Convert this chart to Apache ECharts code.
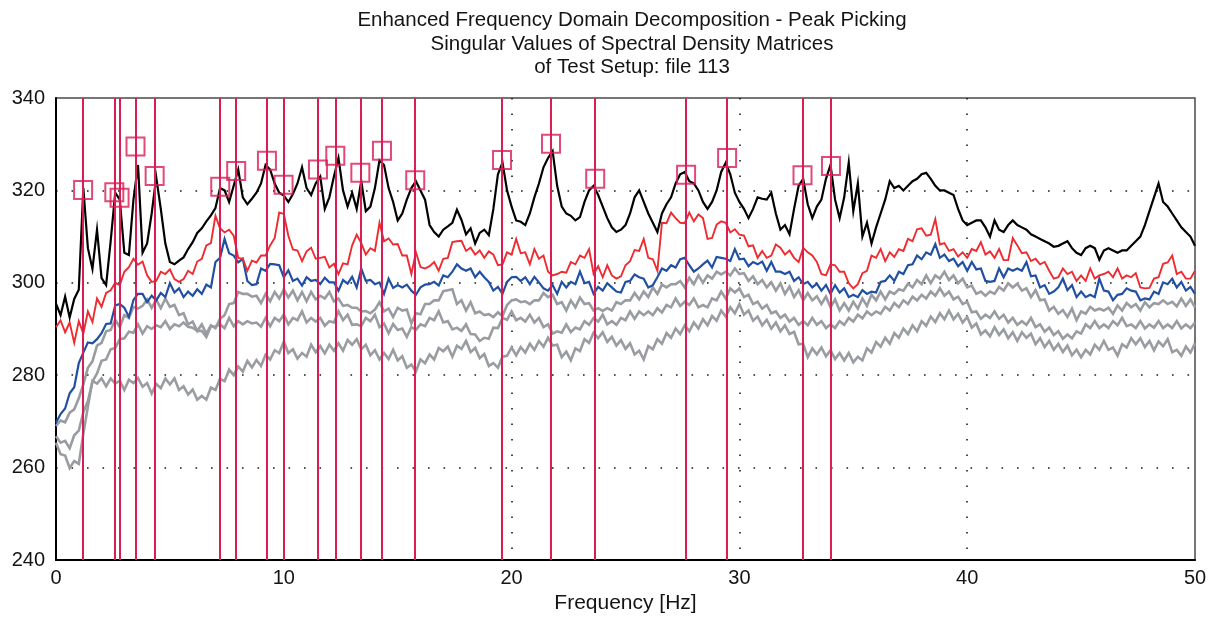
<!DOCTYPE html>
<html>
<head>
<meta charset="utf-8">
<script src="https://cdn.jsdelivr.net/npm/echarts@6/dist/echarts.min.js"></script>
<style>
  html, body { margin: 0; padding: 0; background: #ffffff; }
  #chart { width: 1212px; height: 619px; }
</style>
</head>
<body>
<div id="chart"></div>
<script>
// Spectral lines are sampled every FREQ_STEP Hz from 0 to 50 Hz.
const FREQ_STEP = 0.2;

// First singular value (black)
const sv1 = [
  295.5, 293.0, 297.0, 292.5, 296.5, 298.5, 320.5, 307.5, 303.0, 311.5,
  301.0, 299.5, 309.0, 319.5, 318.0, 306.5, 306.0, 318.0, 325.5, 306.5,
  308.5, 315.0, 322.8, 316.0, 308.5, 304.5, 304.0, 304.8, 305.5, 307.3,
  308.8, 310.8, 311.8, 313.3, 314.6, 316.2, 320.5, 320.0, 317.5, 321.0,
  324.5, 318.5, 317.0, 318.2, 319.5, 321.5, 325.5, 324.5, 321.5, 319.5,
  318.9, 317.5, 319.2, 321.5, 325.0, 320.5, 319.0, 321.5, 323.0, 316.0,
  318.5, 323.0, 327.0, 320.0, 316.5, 319.5, 316.0, 322.0, 315.5, 316.5,
  320.5, 326.5, 325.5, 320.5, 317.5, 313.5, 315.0, 318.0, 320.5, 322.0,
  320.0, 318.0, 312.5, 311.0, 310.0, 311.5, 312.2, 313.0, 315.8, 313.6,
  310.5, 311.8, 308.5, 310.8, 311.5, 310.3, 316.0, 323.5, 326.0, 320.0,
  316.5, 313.5, 313.2, 312.5, 315.0, 318.5, 321.5, 325.0, 327.0, 328.5,
  321.0, 316.5, 315.0, 314.5, 313.5, 314.2, 317.5, 320.0, 321.0, 319.0,
  316.5, 314.0, 312.0, 311.0, 311.5, 312.5, 315.0, 318.5, 320.0, 317.5,
  315.0, 313.0, 311.0, 315.0, 317.0, 318.5, 321.5, 323.5, 324.0, 322.0,
  321.5, 320.0, 317.5, 316.0, 317.5, 320.0, 324.0, 326.0, 323.5, 319.5,
  317.5, 316.0, 314.0, 316.0, 318.5, 318.2, 318.0, 319.5, 315.0, 311.5,
  312.5, 310.5, 316.0, 321.0, 322.5, 317.0, 314.0, 316.5, 318.0, 322.5,
  325.5, 318.0, 314.0, 318.5, 326.0, 315.5, 321.5, 310.0, 313.0, 308.5,
  312.0, 315.0, 318.0, 322.0, 320.5, 321.0, 320.0, 321.0, 322.0, 322.5,
  323.5, 323.8, 322.5, 321.0, 320.0, 320.0, 319.5, 319.0, 316.0, 313.5,
  312.5, 313.0, 313.5, 313.5, 312.0, 310.0, 313.5, 311.5, 311.0, 312.5,
  313.5, 312.5, 312.0, 311.5, 310.5, 310.0, 309.5, 309.0, 308.5, 307.8,
  308.0, 308.5, 309.0, 307.5, 306.5, 306.0, 307.5, 308.0, 307.5, 305.0,
  307.0, 307.5, 307.0, 306.5, 307.0, 307.0, 308.0, 309.0, 310.0, 312.5,
  315.5, 318.5, 321.5, 317.5, 316.5, 315.0, 313.5, 312.0, 311.0, 310.0,
  308.0
];

// Second singular value (red)
const sv2 = [
  290.4, 291.9, 289.3, 291.4, 287.0, 291.7, 289.0, 293.8, 291.5, 296.6,
  294.8, 297.8, 298.4, 300.0, 299.5, 302.4, 303.4, 305.2, 303.9, 304.6,
  301.6, 300.2, 300.4, 302.4, 301.9, 302.9, 300.8, 300.2, 300.8, 302.6,
  301.9, 304.6, 305.2, 308.1, 308.6, 314.5, 311.8, 310.9, 311.5, 310.2,
  305.4, 305.2, 302.6, 304.8, 304.4, 305.9, 305.9, 308.1, 309.7, 315.2,
  314.9, 310.2, 307.2, 307.0, 304.7, 306.8, 307.6, 305.2, 305.4, 305.6,
  303.3, 304.1, 301.9, 304.2, 304.0, 308.1, 310.4, 308.6, 306.1, 307.5,
  306.9, 313.0, 309.0, 309.6, 308.3, 308.4, 305.9, 305.9, 301.9, 306.6,
  303.4, 303.1, 303.6, 304.5, 302.6, 305.2, 305.4, 308.8, 309.0, 309.1,
  306.9, 307.6, 306.1, 307.0, 305.4, 306.8, 306.1, 303.8, 304.0, 306.6,
  306.1, 309.5, 306.4, 306.6, 304.0, 307.3, 305.2, 305.9, 302.4, 301.6,
  301.9, 302.4, 302.2, 304.5, 304.0, 305.9, 305.4, 307.3, 301.9, 303.6,
  301.2, 303.8, 301.6, 300.9, 301.4, 303.8, 304.7, 307.1, 306.9, 309.5,
  305.4, 305.1, 302.6, 313.0, 312.9, 315.2, 314.0, 313.0, 312.9, 315.2,
  313.3, 314.8, 314.0, 309.5, 309.7, 312.6, 313.3, 313.0, 310.9, 311.6,
  310.4, 310.2, 307.9, 308.1, 305.4, 306.9, 305.4, 305.9, 308.3, 307.6,
  306.1, 307.0, 305.4, 304.5, 307.6, 306.6, 305.9, 304.5, 301.9, 301.6,
  304.0, 303.8, 302.4, 302.4, 299.9, 298.8, 299.7, 302.1, 302.6, 305.9,
  305.4, 307.3, 304.7, 306.6, 305.6, 307.3, 306.9, 309.5, 309.0, 311.6,
  311.8, 310.2, 310.4, 313.8, 308.3, 308.6, 306.9, 307.3, 305.7, 306.6,
  305.4, 307.3, 306.9, 308.8, 306.1, 306.8, 305.4, 307.3, 304.9, 304.9,
  309.7, 308.1, 306.4, 306.6, 304.7, 305.2, 304.0, 304.5, 302.6, 300.9,
  301.2, 303.1, 301.9, 302.4, 300.4, 301.6, 300.4, 303.1, 300.9, 301.6,
  301.9, 302.4, 301.2, 303.1, 300.9, 301.6, 301.2, 302.1, 299.0, 298.8,
  298.9, 300.9, 301.2, 304.1, 304.4, 305.9, 301.9, 302.4, 300.9, 300.9,
  302.6
];

// Third singular value (blue)
const sv3 = [
  269.7, 271.6, 272.8, 276.1, 277.4, 282.6, 284.9, 287.1, 286.9, 287.8,
  289.1, 291.1, 291.2, 295.1, 295.4, 294.6, 292.6, 296.3, 297.6, 297.6,
  295.8, 297.2, 296.2, 297.8, 296.9, 299.9, 297.9, 298.8, 296.9, 298.1,
  297.2, 298.6, 297.6, 299.6, 299.0, 304.5, 305.4, 309.5, 306.4, 305.9,
  304.4, 305.2, 300.4, 299.5, 299.7, 303.1, 302.6, 304.1, 304.0, 303.8,
  301.2, 302.7, 300.4, 300.9, 299.4, 301.2, 300.4, 300.6, 299.7, 301.1,
  300.1, 300.1, 298.3, 300.6, 299.8, 301.3, 299.0, 303.1, 300.4, 300.6,
  299.7, 300.1, 297.6, 300.9, 298.9, 299.5, 299.0, 299.6, 298.3, 297.4,
  299.0, 299.6, 299.7, 300.2, 299.4, 301.6, 301.2, 302.4, 304.0, 303.1,
  302.6, 303.1, 301.2, 302.4, 301.2, 300.2, 298.3, 299.1, 297.6, 300.2,
  301.2, 301.3, 300.4, 301.2, 299.7, 301.3, 300.1, 298.8, 298.3, 299.5,
  297.6, 300.2, 299.0, 300.2, 299.7, 302.4, 299.9, 300.2, 297.6, 299.1,
  298.3, 299.9, 299.0, 298.1, 297.9, 300.2, 300.4, 301.8, 301.2, 300.9,
  299.0, 299.5, 301.2, 303.1, 302.6, 303.8, 303.3, 305.1, 305.4, 303.8,
  302.4, 303.1, 304.0, 304.8, 303.3, 305.6, 305.4, 305.2, 304.7, 307.3,
  305.1, 305.2, 303.6, 304.5, 304.0, 304.6, 302.6, 304.5, 302.4, 302.4,
  301.9, 302.4, 300.4, 301.2, 299.7, 300.2, 299.0, 299.8, 298.3, 299.5,
  297.6, 299.5, 297.9, 298.8, 296.9, 297.4, 296.9, 298.4, 297.6, 298.1,
  297.9, 300.2, 300.4, 301.6, 300.4, 302.4, 301.9, 303.8, 304.0, 305.9,
  305.1, 306.6, 306.1, 308.4, 305.4, 306.1, 304.7, 305.2, 303.6, 304.5,
  302.6, 304.5, 302.9, 303.1, 300.4, 300.2, 300.4, 303.1, 301.2, 303.1,
  302.6, 303.1, 302.6, 304.5, 301.4, 301.6, 299.0, 299.5, 297.6, 298.1,
  299.0, 300.9, 298.4, 299.5, 296.9, 298.1, 296.9, 297.4, 296.9, 300.9,
  298.3, 298.1, 296.2, 297.4, 297.6, 298.8, 298.3, 298.1, 296.2, 296.6,
  296.4, 298.1, 297.6, 300.1, 299.7, 300.9, 299.0, 300.2, 298.3, 299.1,
  297.6
];

// Fourth to sixth singular values (grey)
const sv4 = [
  269.0, 270.2, 269.8, 271.9, 272.6, 275.0, 278.0, 281.6, 283.0, 286.4,
  287.0, 289.5, 289.8, 292.0, 290.4, 293.0, 292.4, 294.8, 294.4, 295.0,
  296.4, 294.6, 296.3, 294.5, 296.6, 294.8, 295.2, 293.0, 293.4, 291.0,
  291.6, 289.6, 291.0, 289.0, 290.8, 290.2, 292.2, 293.0, 295.4, 295.6,
  298.0, 297.6, 297.6, 297.0, 297.2, 295.6, 297.6, 296.0, 298.0, 296.6,
  298.6, 296.8, 298.3, 296.2, 298.0, 296.0, 298.0, 296.4, 297.2, 296.6,
  298.0, 296.0, 296.6, 295.0, 295.2, 294.6, 294.6, 293.8, 293.9, 293.4,
  294.2, 295.8, 293.8, 294.4, 292.6, 294.6, 294.0, 294.2, 291.2, 293.4,
  293.2, 295.4, 295.4, 296.2, 296.2, 298.2, 298.4, 298.6, 295.4, 296.2,
  294.0, 295.8, 293.4, 293.8, 293.0, 293.2, 292.6, 293.6, 292.8, 295.2,
  296.2, 296.4, 295.8, 296.0, 295.4, 296.2, 296.2, 297.8, 296.9, 297.4,
  295.4, 295.8, 294.0, 296.2, 294.7, 296.8, 295.4, 295.6, 294.0, 294.5,
  293.9, 294.5, 294.0, 295.8, 295.4, 296.2, 296.2, 297.8, 296.4, 298.1,
  296.9, 299.0, 297.6, 299.6, 299.0, 299.7, 299.7, 300.4, 299.0, 301.1,
  299.7, 301.6, 300.0, 301.6, 300.9, 302.4, 301.8, 302.4, 301.6, 303.1,
  301.9, 302.1, 300.4, 301.4, 299.7, 300.6, 299.0, 300.1, 298.3, 299.9,
  297.6, 299.2, 296.9, 298.4, 296.2, 297.8, 296.2, 297.1, 295.4, 297.0,
  294.7, 296.4, 294.0, 295.6, 294.0, 295.9, 294.4, 296.6, 295.0, 297.4,
  296.2, 298.1, 296.4, 298.1, 297.6, 298.6, 298.3, 299.8, 299.0, 300.6,
  299.7, 301.6, 299.9, 301.6, 300.9, 302.4, 300.6, 301.6, 299.9, 300.9,
  299.0, 299.4, 297.6, 298.1, 297.2, 298.1, 297.6, 299.1, 298.3, 299.9,
  299.0, 299.8, 298.3, 298.8, 296.9, 298.4, 296.2, 296.4, 294.0, 294.8,
  293.3, 294.1, 292.6, 294.4, 291.9, 293.8, 293.3, 294.8, 294.0, 294.4,
  294.0, 294.6, 293.3, 295.1, 294.0, 295.6, 294.7, 295.4, 294.0, 295.8,
  294.7, 295.6, 295.4, 296.2, 295.4, 295.9, 294.9, 296.6, 295.0, 296.4,
  294.7
];

const sv5 = [
  266.8, 265.4, 265.8, 264.2, 267.0, 268.0, 272.0, 274.4, 278.6, 280.4,
  283.1, 283.4, 285.6, 285.9, 287.8, 288.0, 289.4, 289.2, 291.0, 289.0,
  290.6, 290.0, 290.8, 290.4, 291.7, 290.0, 291.0, 290.6, 291.4, 290.5,
  290.3, 289.6, 289.6, 288.3, 290.6, 290.5, 291.0, 290.2, 292.4, 290.6,
  291.7, 291.0, 291.7, 291.2, 291.4, 290.5, 292.4, 290.6, 292.4, 291.7,
  293.1, 291.0, 292.4, 291.9, 293.8, 291.4, 292.4, 291.6, 292.4, 290.7,
  291.7, 291.4, 293.8, 291.9, 293.1, 290.9, 291.0, 290.6, 292.4, 291.7,
  293.1, 290.4, 291.2, 289.1, 291.1, 289.8, 290.1, 288.3, 290.4, 289.8,
  291.0, 290.6, 292.4, 291.9, 293.8, 291.4, 291.7, 289.9, 290.3, 289.6,
  291.0, 288.9, 288.8, 287.4, 288.1, 287.9, 290.3, 290.2, 292.4, 292.0,
  293.8, 291.9, 292.4, 291.6, 293.1, 291.4, 292.4, 290.4, 291.0, 289.0,
  289.5, 289.2, 291.0, 289.3, 290.3, 289.9, 291.7, 290.9, 292.4, 291.6,
  293.1, 291.0, 291.7, 290.9, 292.4, 291.9, 293.8, 292.2, 293.8, 293.0,
  293.8, 293.0, 294.5, 293.6, 295.2, 294.7, 296.6, 295.0, 295.9, 295.2,
  296.6, 294.7, 295.2, 294.7, 296.6, 296.2, 298.1, 296.6, 298.8, 297.9,
  298.8, 296.9, 297.4, 295.4, 295.9, 294.4, 295.2, 293.4, 293.8, 292.4,
  293.1, 291.6, 292.4, 290.9, 291.7, 290.8, 292.4, 290.9, 291.7, 290.2,
  291.0, 290.2, 291.7, 290.9, 292.4, 291.6, 293.1, 292.3, 293.8, 293.0,
  293.8, 293.3, 294.8, 294.0, 295.6, 294.7, 296.2, 295.4, 297.0, 296.2,
  297.4, 296.6, 298.1, 297.2, 298.8, 297.2, 298.1, 296.4, 297.0, 295.4,
  295.9, 293.6, 293.8, 292.2, 293.1, 292.4, 293.8, 292.2, 293.1, 291.4,
  292.4, 290.9, 291.7, 290.9, 292.4, 290.4, 291.0, 289.4, 290.3, 288.7,
  289.5, 287.9, 288.8, 288.0, 289.5, 289.0, 291.0, 290.2, 291.7, 290.2,
  291.0, 290.2, 291.7, 290.8, 292.4, 290.6, 291.0, 290.2, 291.7, 290.1,
  291.0, 290.3, 291.7, 290.2, 291.0, 290.2, 291.7, 290.1, 291.0, 290.2,
  291.4
];

const sv6 = [
  265.4, 262.9, 262.6, 259.9, 261.4, 260.8, 267.3, 273.2, 278.8, 278.2,
  279.3, 277.6, 279.3, 278.2, 278.8, 276.8, 279.0, 278.3, 279.4, 277.5,
  278.3, 276.0, 278.1, 277.2, 279.3, 278.0, 279.3, 276.8, 277.6, 275.8,
  276.9, 274.7, 275.5, 274.7, 277.3, 276.8, 279.2, 278.7, 281.2, 280.0,
  281.9, 280.8, 283.1, 281.7, 283.3, 282.0, 284.4, 283.4, 285.4, 284.8,
  287.3, 284.8, 285.6, 283.6, 284.8, 284.0, 286.6, 285.0, 286.3, 284.7,
  286.6, 285.3, 286.9, 285.3, 287.6, 286.6, 287.8, 285.6, 286.6, 284.3,
  285.4, 283.4, 284.8, 283.5, 285.5, 283.2, 284.1, 281.6, 282.3, 280.8,
  283.4, 282.6, 284.5, 283.4, 285.9, 285.2, 286.2, 284.0, 286.4, 285.7,
  287.4, 285.0, 285.9, 283.7, 284.6, 282.0, 282.6, 281.6, 284.0, 284.2,
  286.0, 284.3, 286.1, 284.9, 286.8, 285.5, 287.4, 286.2, 288.1, 286.4,
  286.6, 283.9, 285.1, 283.2, 285.8, 285.2, 287.8, 287.0, 289.2, 288.0,
  289.3, 287.2, 288.3, 286.4, 287.6, 285.7, 286.9, 284.5, 285.3, 283.4,
  286.3, 285.6, 287.8, 286.8, 289.1, 288.1, 290.1, 288.9, 290.8, 289.5,
  291.4, 290.1, 292.1, 290.8, 292.8, 291.8, 294.0, 292.7, 294.7, 293.4,
  295.4, 293.1, 294.0, 291.8, 292.7, 290.8, 292.0, 290.1, 291.4, 289.5,
  290.8, 288.9, 289.4, 286.7, 286.8, 283.9, 285.8, 284.5, 286.0, 284.1,
  285.4, 283.5, 284.8, 283.2, 284.8, 282.8, 284.0, 283.2, 285.8, 284.9,
  287.2, 286.2, 288.1, 286.8, 289.1, 288.1, 290.1, 288.9, 290.8, 289.5,
  291.7, 290.7, 292.7, 291.5, 293.4, 292.1, 294.0, 292.1, 293.3, 291.4,
  292.6, 290.3, 291.2, 288.8, 289.7, 288.4, 290.4, 288.7, 289.9, 288.0,
  289.3, 287.4, 289.3, 288.1, 289.0, 286.7, 288.0, 286.1, 287.4, 285.5,
  286.8, 285.0, 286.4, 284.3, 285.5, 283.9, 285.5, 284.5, 286.6, 285.5,
  287.4, 285.5, 286.0, 284.2, 286.7, 286.0, 288.0, 286.7, 288.0, 286.1,
  287.4, 285.4, 287.3, 286.3, 287.8, 285.0, 285.5, 284.2, 286.2, 284.9,
  286.9
];

// Picked peaks: frequency [Hz] and level of the picked singular value
const peakFreq = [1.19, 2.56, 2.79, 3.49, 4.33, 7.21, 7.91, 9.26, 9.99, 11.50, 12.26,
                  13.36, 14.31, 15.77, 19.58, 21.73, 23.67, 27.66, 29.46, 32.77, 34.02];
const peakValue = [320.1, 319.6, 318.4, 329.5, 323.1, 320.8, 324.2, 326.4, 321.2, 324.5, 327.5,
                   323.8, 328.6, 322.2, 326.6, 330.1, 322.5, 323.4, 327.0, 323.3, 325.3];

const titleLines = [
  'Enhanced Frequency Domain Decomposition - Peak Picking',
  'Singular Values of Spectral Density Matrices',
  'of Test Setup: file 113'
];
const xAxisName = 'Frequency [Hz]';

const FONT = '"Liberation Sans", Arial, Helvetica, sans-serif';
const TEXT_COLOR = '#141414';
const PEAK_COLOR = '#d91d55';

function withFreq(values) {
  return values.map((v, i) => [Math.round(i * FREQ_STEP * 100) / 100, v]);
}

function svSeries(name, values, color, width) {
  return {
    name: name,
    type: 'line',
    data: withFreq(values),
    showSymbol: false,
    symbol: 'none',
    silent: true,
    lineStyle: { color: color, width: width, join: 'miter' },
    z: 2
  };
}

const chart = echarts.init(document.getElementById('chart'), null, { renderer: 'canvas' });

chart.setOption({
  animation: false,
  backgroundColor: '#ffffff',
  textStyle: { fontFamily: FONT },
  title: {
    text: titleLines.join('\n'),
    left: 627,
    top: 4,
    textAlign: 'center',
    textStyle: {
      fontFamily: FONT,
      fontSize: 20.5,
      fontWeight: 'normal',
      lineHeight: 23.5,
      color: TEXT_COLOR
    }
  },
  grid: {
    left: 56,
    right: 17,
    top: 98,
    bottom: 55,
    show: true,
    borderColor: '#4a4a4a',
    borderWidth: 1.5,
    backgroundColor: 'transparent'
  },
  xAxis: {
    type: 'value',
    min: 0,
    max: 50,
    interval: 10,
    name: xAxisName,
    nameLocation: 'middle',
    nameGap: 33,
    nameTextStyle: { fontFamily: FONT, fontSize: 21, color: TEXT_COLOR },
    axisLine: { show: true, onZero: false, lineStyle: { color: '#000', width: 2 } },
    axisTick: { show: false },
    axisLabel: { margin: 8, fontFamily: FONT, fontSize: 20, color: TEXT_COLOR },
    splitLine: {
      show: true,
      showMinLine: false,
      showMaxLine: false,
      lineStyle: { color: '#1a1a1a', width: 1.6, type: [1.6, 13.9] }
    }
  },
  yAxis: {
    type: 'value',
    min: 240,
    max: 340,
    interval: 20,
    axisLine: { show: true, onZero: false, lineStyle: { color: '#000', width: 2 } },
    axisTick: { show: false },
    axisLabel: { margin: 11, fontFamily: FONT, fontSize: 20, color: TEXT_COLOR },
    splitLine: {
      show: true,
      showMinLine: false,
      showMaxLine: false,
      lineStyle: { color: '#1a1a1a', width: 1.6, type: [1.6, 13.9] }
    }
  },
  series: [
    svSeries('SV6', sv6, '#999ca1', 2.6),
    svSeries('SV5', sv5, '#999ca1', 2.6),
    svSeries('SV4', sv4, '#999ca1', 2.6),
    svSeries('SV3', sv3, '#2150a3', 2.2),
    svSeries('SV2', sv2, '#ee2b30', 1.9),
    svSeries('SV1', sv1, '#000000', 2.2),
    {
      name: 'Peaks',
      type: 'scatter',
      data: peakFreq.map((f, i) => [f, peakValue[i]]),
      symbol: 'rect',
      symbolSize: 18,
      silent: true,
      itemStyle: { color: 'rgba(0,0,0,0)', borderColor: PEAK_COLOR, borderWidth: 2 },
      z: 5,
      markLine: {
        silent: true,
        symbol: ['none', 'none'],
        label: { show: false },
        emphasis: { disabled: true },
        lineStyle: { color: PEAK_COLOR, width: 2, type: 'solid' },
        data: peakFreq.map(f => ({ xAxis: f }))
      }
    }
  ]
});
</script>
</body>
</html>
